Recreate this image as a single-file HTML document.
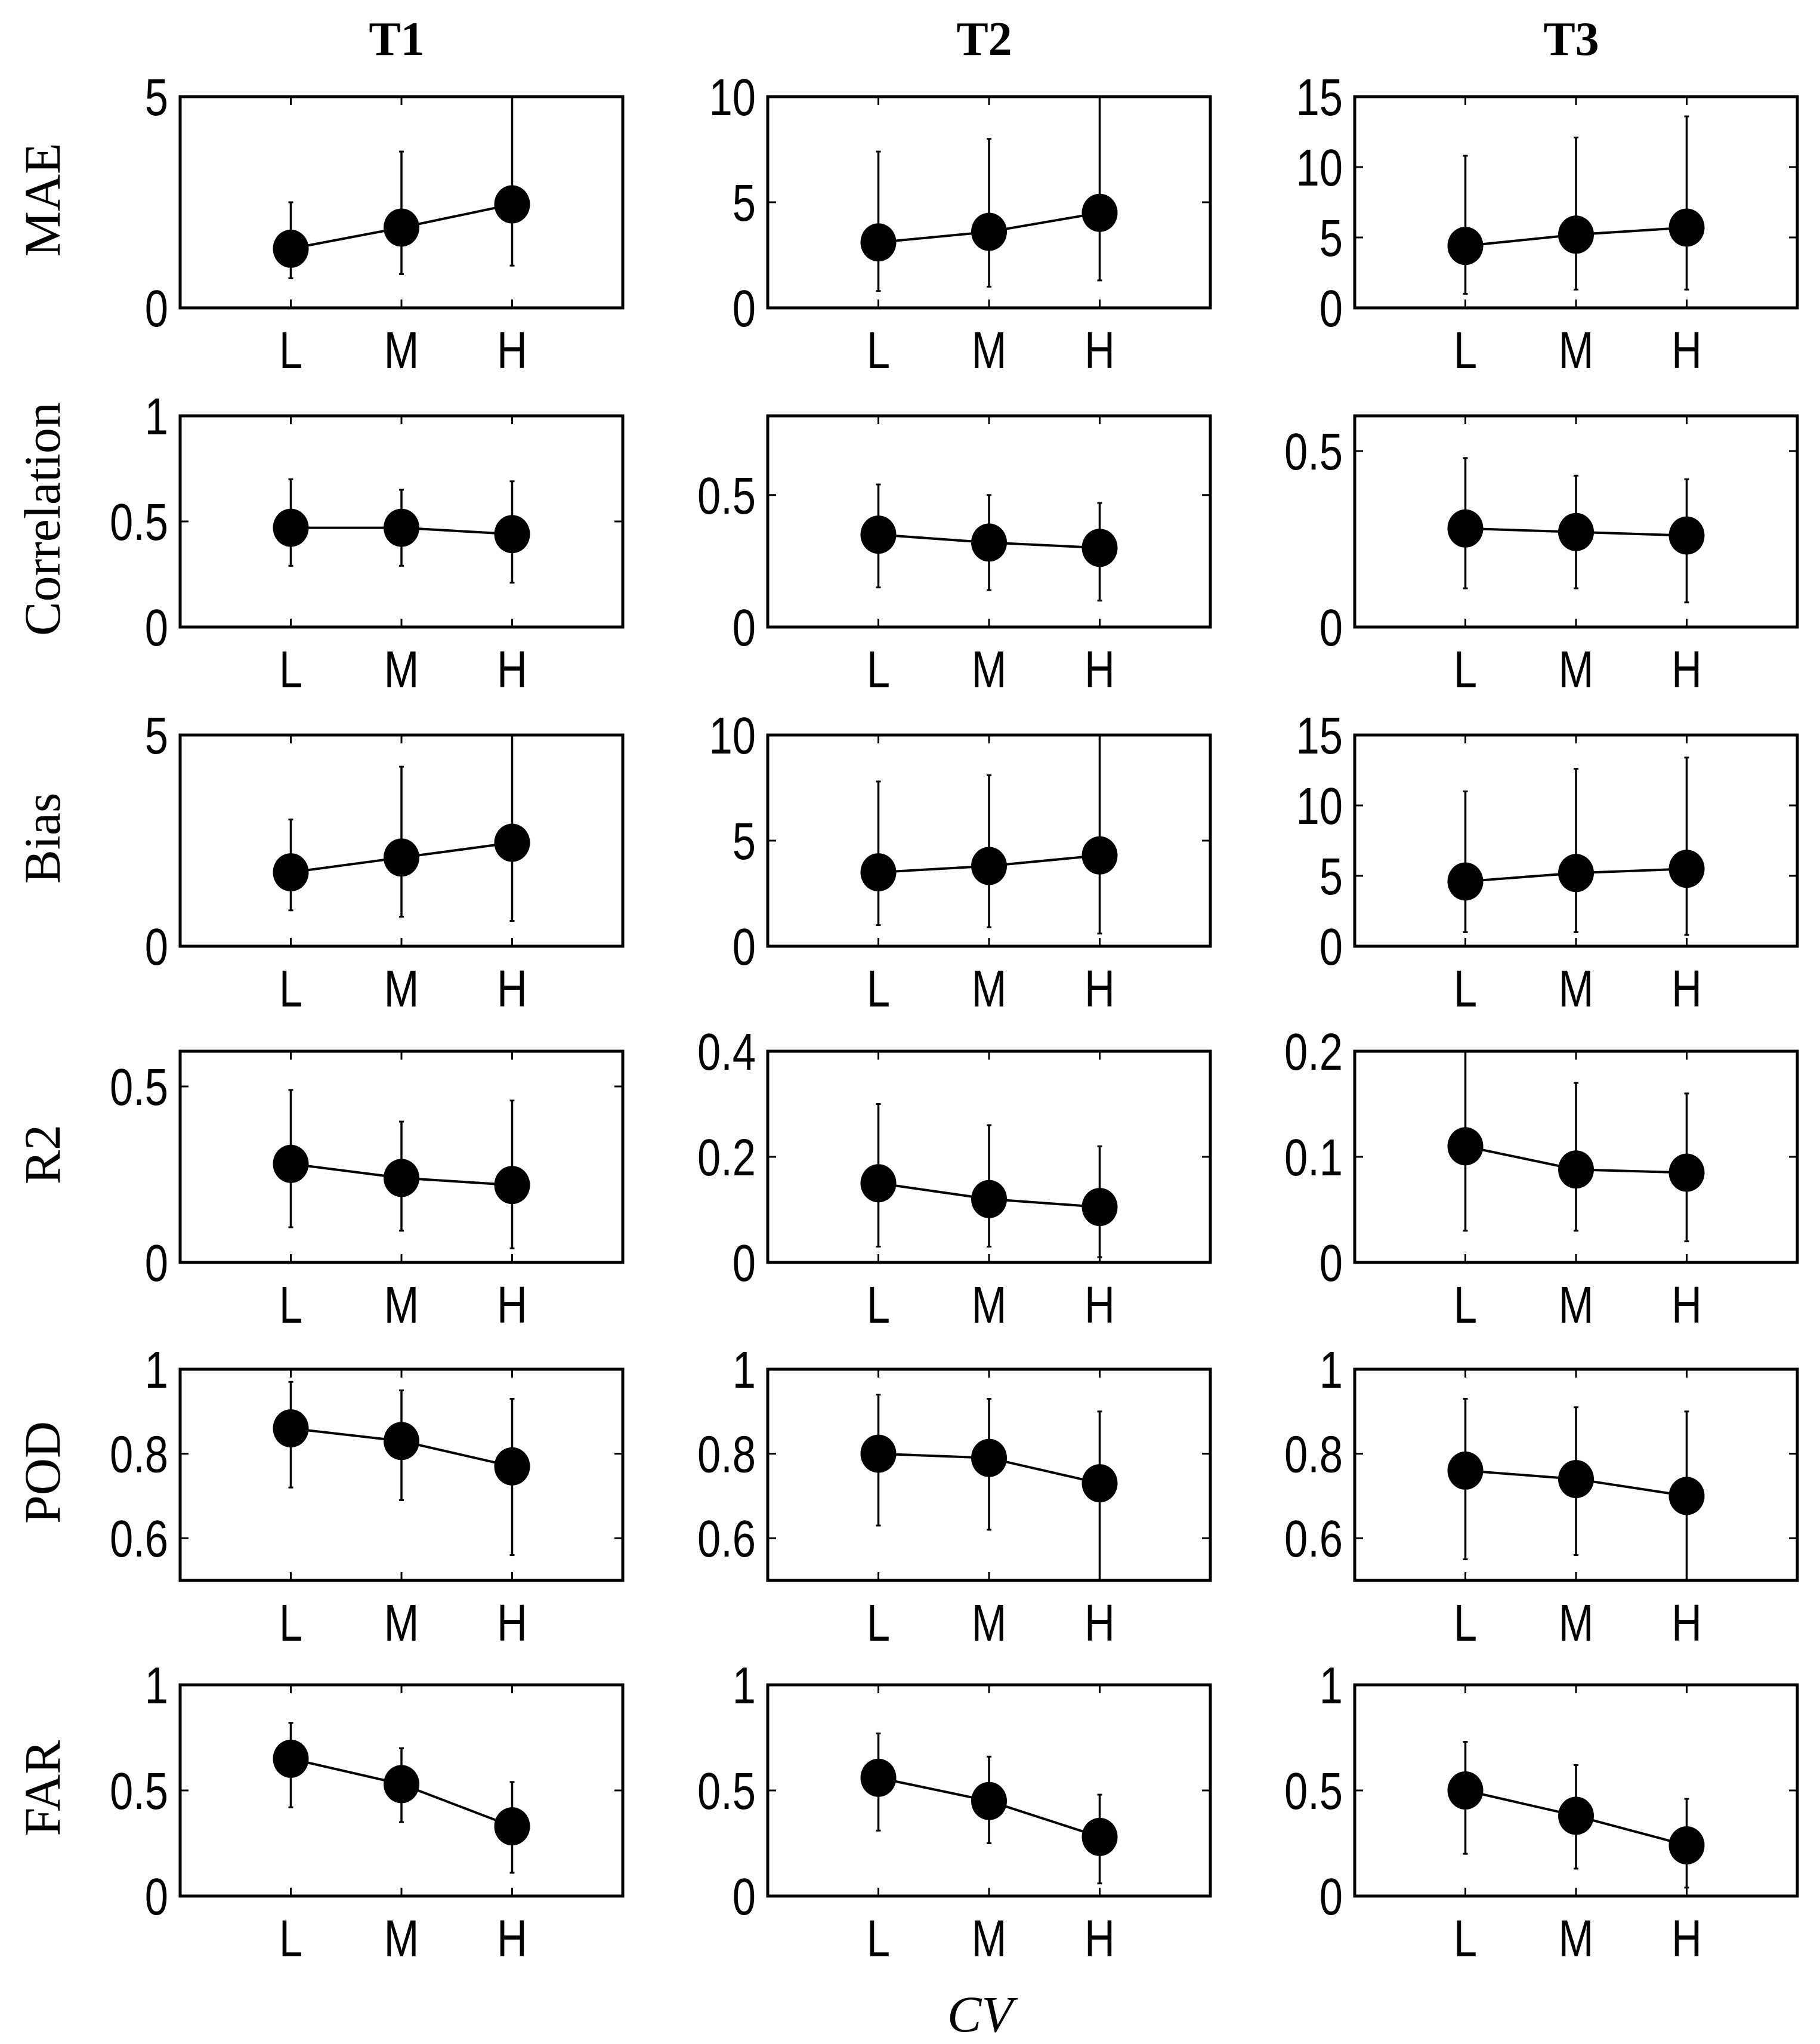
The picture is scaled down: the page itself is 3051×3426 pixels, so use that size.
<!DOCTYPE html>
<html><head><meta charset="utf-8"><style>
html,body{margin:0;padding:0;background:#fff;}
svg{display:block;}
text{fill:#000;}
.tick{font-family:"Liberation Sans",sans-serif;font-size:82px;}
.rowl{font-family:"Liberation Serif",serif;font-size:86px;}
.coll{font-family:"Liberation Serif",serif;font-size:80px;font-weight:bold;}
</style></head><body>
<svg id="fig" width="3051" height="3426" viewBox="0 0 3051 3426" xmlns="http://www.w3.org/2000/svg"></svg>
<script>
const categories = ["L","M","H"];
const metrics = ["MAE","Correlation","Bias","R2","POD","FAR"];
const periods = ["T1","T2","T3"];
const yMin = [[0,0,0],[0,0,0],[0,0,0],[0,0,0],[0.5,0.5,0.5],[0,0,0]];
const yMax = [[5,10,15],[1,0.8,0.6],[5,10,15],[0.6,0.4,0.2],[1,1,1],[1,1,1]];
const yTicks = [
 [[0,5],[0,5,10],[0,5,10,15]],
 [[0,0.5,1],[0,0.5],[0,0.5]],
 [[0,5],[0,5,10],[0,5,10,15]],
 [[0,0.5],[0,0.2,0.4],[0,0.1,0.2]],
 [[0.6,0.8,1],[0.6,0.8,1],[0.6,0.8,1]],
 [[0,0.5,1],[0,0.5,1],[0,0.5,1]]
];
const meanValues = [
 [[1.4,1.9,2.45],[3.1,3.6,4.5],[4.4,5.2,5.7]],
 [[0.47,0.47,0.44],[0.35,0.32,0.30],[0.28,0.27,0.26]],
 [[1.75,2.1,2.45],[3.5,3.8,4.3],[4.6,5.2,5.5]],
 [[0.28,0.24,0.22],[0.15,0.12,0.105],[0.11,0.088,0.085]],
 [[0.86,0.83,0.77],[0.80,0.79,0.73],[0.76,0.74,0.70]],
 [[0.65,0.53,0.33],[0.56,0.45,0.28],[0.50,0.38,0.24]]
];
const lowValues = [
 [[0.7,0.8,1.0],[0.8,1.0,1.3],[1.0,1.3,1.3]],
 [[0.29,0.29,0.21],[0.15,0.14,0.10],[0.11,0.11,0.07]],
 [[0.85,0.7,0.6],[1.0,0.9,0.6],[1.0,1.0,0.8]],
 [[0.10,0.09,0.04],[0.03,0.03,0.01],[0.03,0.03,0.02]],
 [[0.72,0.69,0.56],[0.63,0.62,0.5],[0.55,0.56,0.5]],
 [[0.42,0.35,0.11],[0.31,0.25,0.06],[0.20,0.13,0.04]]
];
const highValues = [
 [[2.5,3.7,5.0],[7.4,8.0,10],[10.8,12.1,13.6]],
 [[0.70,0.65,0.69],[0.54,0.50,0.47],[0.48,0.43,0.42]],
 [[3.0,4.25,5.0],[7.8,8.1,10],[11,12.6,13.4]],
 [[0.49,0.40,0.46],[0.30,0.26,0.22],[0.2,0.17,0.16]],
 [[0.97,0.95,0.93],[0.94,0.93,0.90],[0.93,0.91,0.90]],
 [[0.82,0.70,0.54],[0.77,0.66,0.48],[0.73,0.62,0.46]]
];

const NS="http://www.w3.org/2000/svg";
const svg=document.getElementById('fig');
const colLeft=[302,1287,2271], rowTop=[162,697,1232,1762,2295,2824];
const W=742, H=354;
function mk(tag,attrs,parent){const e=document.createElementNS(NS,tag);for(const k in attrs)e.setAttribute(k,attrs[k]);(parent||svg).appendChild(e);return e;}
function fmt(v){return String(v);}
function tickText(x,y,anchor,str,parent){
  const t=mk('text',{x:0,y:0,'text-anchor':anchor,class:'tick',transform:`translate(${x},${y}) scale(0.86,1.06)`},parent);
  t.textContent=str;return t;
}

periods.forEach((p,c)=>{
  const t=mk('text',{x:colLeft[c]+W/2-8,y:92,'text-anchor':'middle',class:'coll'});
  t.textContent=p;
  
  
});
metrics.forEach((m,r)=>{
  const cy=rowTop[r]+H/2-4;
  const t=mk('text',{x:0,y:0,'text-anchor':'middle',class:'rowl',transform:`translate(100,${cy}) rotate(-90)`});
  t.textContent=m;
  
  
});
const cv=mk('text',{x:1643,y:3405,'text-anchor':'middle',class:'rowl','font-style':'italic'});
cv.textContent='CV';



for(let r=0;r<6;r++){for(let c=0;c<3;c++){
  const x0=colLeft[c], y0=rowTop[r];
  const g=mk('g',{});
  
  
  const xs=i=>x0+(i+1)/4*W;
  const ys=v=>y0+H-(v-yMin[r][c])/(yMax[r][c]-yMin[r][c])*H;
  const box=mk('rect',{x:x0,y:y0,width:W,height:H,fill:'none',stroke:'#000','stroke-width':5},g);
  
  
  categories.forEach((cat,i)=>{
    const x=xs(i);
    mk('line',{x1:x,x2:x,y1:y0+H,y2:y0+H-14,stroke:'#000','stroke-width':3},g);
    mk('line',{x1:x,x2:x,y1:y0,y2:y0+14,stroke:'#000','stroke-width':3},g);
    const t=tickText(x,y0+H+101,'middle',cat,g);
    
    
  });
  yTicks[r][c].forEach(v=>{
    const y=ys(v);
    mk('line',{x1:x0,x2:x0+14,y1:y,y2:y,stroke:'#000','stroke-width':3},g);
    mk('line',{x1:x0+W,x2:x0+W-14,y1:y,y2:y,stroke:'#000','stroke-width':3},g);
    const t=tickText(x0-20,y+31,'end',fmt(v),g);
    
    
  });
  categories.forEach((cat,i)=>{
    const x=xs(i), yl=ys(lowValues[r][c][i]), yh=ys(highValues[r][c][i]);
    const eb=mk('line',{x1:x,x2:x,y1:yl,y2:yh,stroke:'#000','stroke-width':3.5},g);
    
    
    mk('line',{x1:x-4,x2:x+4,y1:yl,y2:yl,stroke:'#000','stroke-width':3},g);
    mk('line',{x1:x-4,x2:x+4,y1:yh,y2:yh,stroke:'#000','stroke-width':3},g);
  });
  const pts=categories.map((cat,i)=>xs(i)+','+ys(meanValues[r][c][i])).join(' ');
  const ln=mk('polyline',{points:pts,fill:'none',stroke:'#000','stroke-width':4},g);
  
  
  categories.forEach((cat,i)=>{
    const pt=mk('ellipse',{cx:xs(i),cy:ys(meanValues[r][c][i]),rx:30,ry:32,fill:'#000'},g);
    
    
  });
}}
</script>
</body></html>
